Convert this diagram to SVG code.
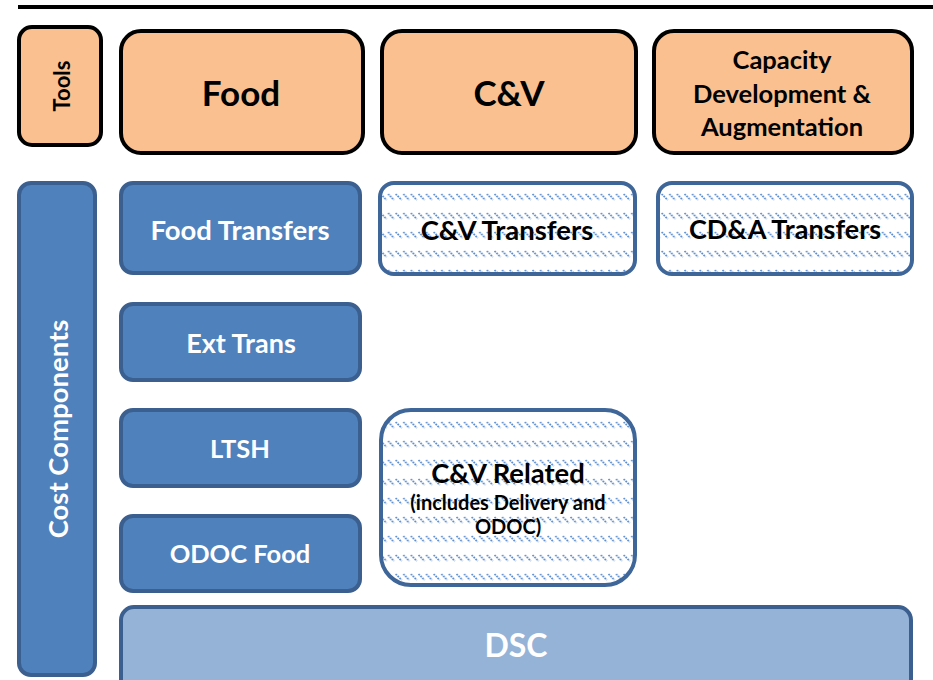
<svg xmlns="http://www.w3.org/2000/svg" width="933" height="680" viewBox="0 0 933 680">
<defs>
<pattern id="hatch" x="0" y="0" width="7.6" height="19" patternUnits="userSpaceOnUse">
<rect width="7.6" height="19" fill="#ffffff"/>
<line x1="0.5" y1="4" x2="6.5" y2="10" stroke="#5a8ccc" stroke-width="1.7" stroke-dasharray="1.8 0.9"/>
</pattern>
</defs>
<style>
.tool{fill:#fac090;stroke:#000;stroke-width:4}
.blue{fill:#4f81bd;stroke:#3b5f8f;stroke-width:4}
.hat{fill:url(#hatch);stroke:#3e6699;stroke-width:4}
.dsc{fill:#95b3d7;stroke:#3b5f8f;stroke-width:4}
text{font-family:Lato,"Open Sans","Liberation Sans",sans-serif;font-weight:bold;text-anchor:middle;dominant-baseline:central}
.w{fill:#fff}
.k{fill:#000}
</style>
<g id="topline"><line x1="18" y1="7" x2="933" y2="7" stroke="#000" stroke-width="4"/></g>
<g id="tools"><rect class="tool" x="19" y="27" width="82" height="118" rx="13"/><text class="k" x="61" y="86" font-size="22" transform="rotate(-90 61 86)">Tools</text></g>
<g id="food"><rect class="tool" x="121" y="31" width="242" height="122" rx="20"/><text class="k" x="241" y="92" font-size="35">Food</text></g>
<g id="cv"><rect class="tool" x="382" y="31" width="254" height="122" rx="20"/><text class="k" x="509" y="92" font-size="35">C&amp;V</text></g>
<g id="cda"><rect class="tool" x="654" y="31" width="258" height="122" rx="20"/><text class="k" font-size="25.5"><tspan x="782" y="59">Capacity</tspan><tspan x="782" y="93">Development &amp;</tspan><tspan x="782" y="126">Augmentation</tspan></text></g>
<g id="costcomp"><rect class="blue" x="19" y="183" width="76" height="492" rx="12"/><text class="w" x="57" y="429" font-size="27.5" transform="rotate(-90 57 429)">Cost Components</text></g>
<g id="foodtransfers"><rect class="blue" x="121" y="183" width="239" height="90" rx="12"/><text class="w" x="240" y="229" font-size="27.5">Food Transfers</text></g>
<g id="cvtransfers"><rect class="hat" x="380" y="183" width="255" height="91" rx="14"/><text class="k" x="507" y="229" font-size="27.5">C&amp;V Transfers</text></g>
<g id="cdatransfers"><rect class="hat" x="658" y="183" width="254" height="91" rx="14"/><text class="k" x="785" y="228" font-size="27">CD&amp;A Transfers</text></g>
<g id="exttrans"><rect class="blue" x="121" y="304" width="239" height="76" rx="12"/><text class="w" x="241" y="342" font-size="27">Ext Trans</text></g>
<g id="ltsh"><rect class="blue" x="121" y="410" width="239" height="76" rx="12"/><text class="w" x="240" y="448" font-size="25.5">LTSH</text></g>
<g id="odocfood"><rect class="blue" x="121" y="516" width="239" height="75" rx="12"/><text class="w" x="240" y="553" font-size="25.5">ODOC Food</text></g>
<g id="cvrelated"><rect class="hat" x="381" y="410" width="254" height="175" rx="30"/><text class="k" x="508" y="472" font-size="27.4">C&amp;V Related</text><text class="k" font-size="20"><tspan x="508" y="502">(includes Delivery and</tspan><tspan x="508" y="526">ODOC)</tspan></text></g>
<g id="dsc"><rect class="dsc" x="121" y="607" width="790" height="95" rx="13"/><text class="w" x="516" y="644" font-size="32">DSC</text></g>
<g id="connectors"></g>
</svg>
